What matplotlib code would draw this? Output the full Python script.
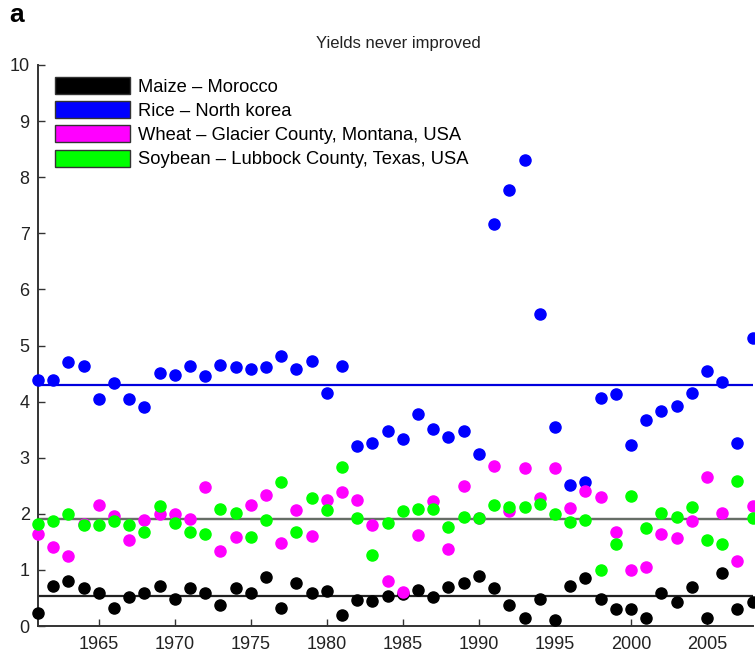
import matplotlib
matplotlib.use('Agg')
import matplotlib.pyplot as plt
from matplotlib.patches import Patch
import numpy as np

plt.rcParams['font.family'] = ['Liberation Sans', 'DejaVu Sans']

years = np.arange(1961, 2009)

# Maize - Morocco
maize = [0.24, 0.71, 0.80, 0.67, 0.58, 0.33, 0.51, 0.58, 0.71, 0.49,
         0.67, 0.58, 0.37, 0.67, 0.58, 0.88, 0.33, 0.76, 0.58, 0.62,
         0.19, 0.46, 0.45, 0.53, 0.57, 0.64, 0.51, 0.70, 0.77, 0.90,
         0.67, 0.37, 0.15, 0.48, 0.10, 0.71, 0.85, 0.49, 0.31, 0.31,
         0.15, 0.58, 0.43, 0.70, 0.15, 0.94, 0.31, 0.43]
# Rice - North korea
rice = [4.39, 4.39, 4.70, 4.64, 4.05, 4.33, 4.04, 3.90, 4.51, 4.48,
        4.64, 4.45, 4.66, 4.61, 4.58, 4.62, 4.81, 4.59, 4.73, 4.16,
        4.64, 3.20, 3.27, 3.47, 3.34, 3.78, 3.51, 3.37, 3.47, 3.07,
        7.16, 7.77, 8.31, 5.57, 3.54, 2.51, 2.57, 4.06, 4.13, 3.23,
        3.68, 3.83, 3.92, 4.15, 4.54, 4.35, 3.27, 5.13]
# Wheat - Glacier County
wheat = [1.64, 1.40, 1.25, 1.82, 2.16, 1.96, 1.54, 1.89, 2.00, 2.00,
         1.91, 2.47, 1.34, 1.59, 2.16, 2.34, 1.48, 2.07, 1.61, 2.25,
         2.38, 2.25, 1.80, 0.80, 0.61, 1.62, 2.23, 1.37, 2.49, 1.93,
         2.86, 2.05, 2.82, 2.29, 2.82, 2.11, 2.40, 2.30, 1.67, 0.99,
         1.05, 1.64, 1.57, 1.87, 2.65, 2.01, 1.16, 2.14]
# Soybean - Lubbock County
soy = [1.82, 1.87, 2.00, 1.80, 1.80, 1.87, 1.80, 1.68, 2.14, 1.84,
       1.68, 1.64, 2.09, 2.02, 1.58, 1.89, 2.56, 1.68, 2.29, 2.07,
       2.84, 1.93, 1.27, 1.84, 2.05, 2.09, 2.09, 1.77, 1.95, 1.93,
       2.15, 2.12, 2.12, 2.17, 1.99, 1.86, 1.89, 0.99, 1.46, 2.32,
       1.74, 2.01, 1.95, 2.13, 1.54, 1.47, 2.58, 1.93]

labels = ['Maize \u2013 Morocco', 'Rice \u2013 North korea',
          'Wheat \u2013 Glacier County, Montana, USA',
          'Soybean \u2013 Lubbock County, Texas, USA']
colors = ['#000000', '#0000ff', '#ff00ff', '#00ff00']
means = [0.54, 4.30, 1.915, 1.90]
line_colors = ['#222222', '#0000dd', '#7a667a', '#666e66']

fig = plt.figure(figsize=(7.55, 6.53), dpi=100)
ax = fig.add_axes([0.0503, 0.0413, 0.9465, 0.8592])

series = [maize, rice, wheat, soy]
for i in range(4):
    ax.axhline(means[i], color=line_colors[i], lw=1.6, zorder=2)
for i in range(4):
    ax.plot(years, series[i], 'o', ms=8, color=colors[i],
            markeredgecolor=colors[i], clip_on=False, zorder=3)

ax.set_xlim(1961, 2008)
ax.set_ylim(0, 10)
ax.set_xticks(np.arange(1965, 2006, 5))
ax.set_yticks(np.arange(0, 11, 1))
ax.tick_params(direction='in', length=5, width=1, labelsize=13,
               color='#333333', labelcolor='#222222')
ax.tick_params(axis='x', pad=7)
ax.tick_params(axis='y', pad=6)
for s in ['top', 'right']:
    ax.spines[s].set_visible(False)
for s in ['left', 'bottom']:
    ax.spines[s].set_linewidth(1.4)
    ax.spines[s].set_color('#333333')

handles = [Patch(facecolor=c, edgecolor='#333333', lw=1) for c in colors]
ax.legend(handles, labels, loc='upper left', bbox_to_anchor=(0.024, 0.979),
          frameon=False, fontsize=13.2, handlelength=4.1, handleheight=1.05,
          labelspacing=0.3, handletextpad=0.4, borderpad=0, borderaxespad=0)

fig.text(0.527, 0.933, 'Yields never improved', ha='center', va='center',
         fontsize=12, color='#222222')
fig.text(0.012, 0.977, 'a', ha='left', va='center', fontsize=19,
         fontweight='bold')

plt.savefig('out.png', dpi=100)
